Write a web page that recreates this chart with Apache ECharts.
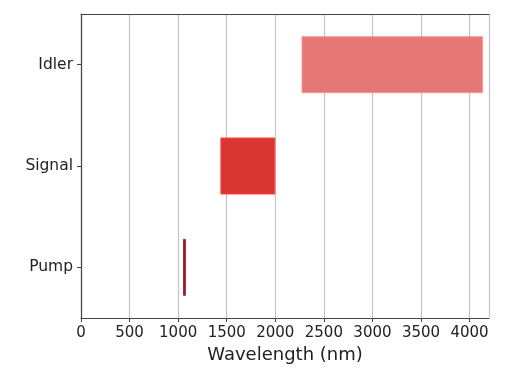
<!DOCTYPE html>
<html>
<head>
<meta charset="utf-8">
<script src="https://cdn.jsdelivr.net/npm/echarts@6/dist/echarts.min.js"></script>
<style>
  html, body { margin: 0; padding: 0; background: #fff; }
  #chart { width: 506px; height: 378px; }
</style>
</head>
<body>
<div id="chart"></div>
<script>
// 波段数据：每个波段的起点和终点 (nm)
const bands = ['Pump', 'Signal', 'Idler']
const bandStart = [1050, 1435, 2270]
const bandEnd = [1080, 2000, 4140]
const bandColors = ['#8e1f2c', '#d93632', '#e57876']
const xMin = 0
const xMax = 4200
const xStep = 500

// 堆叠柱状图：透明的底座 + 可见的区间
const bandWidth = bandEnd.map((v, i) => v - bandStart[i])

const chart = echarts.init(document.getElementById('chart'), null, { renderer: 'canvas' })
const option = {
  animation: false,
  backgroundColor: '#fff',
  textStyle: { fontFamily: 'DejaVu Sans' },
  grid: { left: 81, right: 17, top: 14, bottom: 60 },
  xAxis: [
    {
      type: 'value',
      min: xMin,
      max: xMax,
      interval: xStep,
      name: 'Wavelength (nm)',
      nameLocation: 'middle',
      nameGap: 26,
      nameTextStyle: { fontSize: 18, color: '#222' },
      axisLine: { show: true, lineStyle: { color: '#444', width: 1.2 } },
      axisTick: { show: true, length: 4, lineStyle: { color: '#444' } },
      axisLabel: {
        fontSize: 15,
        color: '#222',
        margin: 8,
        showMaxLabel: false,
        formatter: (v) => String(v) // 不要千位分隔符
      },
      splitLine: { show: true, lineStyle: { color: '#c4c4c4', width: 1.2 } }
    },
    {
      // 顶部的边框线
      type: 'value',
      position: 'top',
      min: xMin,
      max: xMax,
      axisLine: { show: true, lineStyle: { color: '#444', width: 1.2 } },
      axisTick: { show: false },
      axisLabel: { show: false },
      splitLine: { show: false }
    }
  ],
  yAxis: {
    type: 'category',
    data: bands,
    axisLine: { show: true, lineStyle: { color: '#444', width: 1.2 } },
    axisTick: { show: true, alignWithLabel: true, length: 4, lineStyle: { color: '#444' } },
    axisLabel: { fontSize: 15.5, color: '#222', margin: 8 },
    splitLine: { show: false }
  },
  series: [
    {
      type: 'bar',
      stack: 'band',
      data: bandStart,
      barWidth: 57,
      itemStyle: { color: 'transparent' },
      silent: true
    },
    {
      type: 'bar',
      stack: 'band',
      barWidth: 57,
      data: bandWidth.map((v, i) => ({
        value: v,
        itemStyle: {
          color: bandColors[i],
          borderColor: echarts.color.lift(bandColors[i], -0.25),
          borderWidth: 1
        }
      }))
    }
  ]
}
chart.setOption(option)
</script>
</body>
</html>
